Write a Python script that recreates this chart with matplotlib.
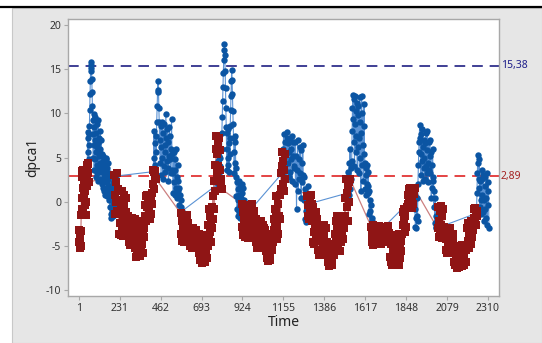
import numpy as np
import matplotlib
matplotlib.use("Agg")
import matplotlib.pyplot as plt
from matplotlib.patches import Rectangle
from matplotlib.lines import Line2D
import matplotlib.transforms as mtransforms

plt.rcParams['font.family'] = ['Noto Sans', 'DejaVu Sans']

# ---- axis / reference data ----
x_ticks = [1, 231, 462, 693, 924, 1155, 1386, 1617, 1848, 2079, 2310]
y_ticks = [-10, -5, 0, 5, 10, 15, 20]
ucl_value = 15.38
mean_value = 2.89
ucl_label = "15,38"
mean_label = "2,89"
x_label = "Time"
y_label = "dpca1"

# ---- red (square) group segments: time span + values ----
red_a_span = (1, 55)
red_a = [-3.2, -4.6, -5.2, -3.8, -4.4, -5.0, -3.3,
         -1.5, 2.8, 0.4, 3.5, -0.8, 1.6, 3.6, -1.2, 2.4, 0.8, 3.2, -0.4, 1.2, 3.4, -1.5, 2.0, 0.0,
         1.8, 4.2, 2.6, 4.4, 3.2, 4.3, 2.2]
red_c_span = (200, 435)
red_c = [3.0, 0.8, -1.4, 2.2, 0.0, 3.2, -1.0,
         1.4, -1.0, -3.6, 0.2, -2.4, -3.8, -0.8, 1.2, -2.8, -1.6, -3.9, -0.4, 0.8, -2.0, -3.2, -1.2,
         0.4, -3.6, -2.6, -1.8,
         -1.6, -4.6, -3.0, -4.9, -2.2, -4.0, -3.4, -1.8, -4.4, -2.8, -4.8, -3.6,
         -2.0, -5.2, -6.2, -3.6, -4.6, -6.0, -2.6, -5.6, -4.2, -3.0, -6.1, -5.0, -2.2, -4.8, -5.8, -3.8,
         -5.8, -4.0, -3.0, -1.6, -0.4,
         0.6, -2.2, -0.6, 0.8, -1.8, 0.2, -1.0, -2.0, 0.4, -1.4, 0.7, -0.2,
         1.0, 3.6, 2.0, 3.4, 1.4, 2.8, 3.5, 2.6]
red_e_span = (575, 808)
red_e = [-1.3, -3.6, -2.2, -4.4, -1.8, -3.0, -4.5, -2.6, -3.8, -1.6, -4.2, -2.8, -3.4, -1.5,
         -4.0, -2.4, -3.2, -4.4,
         -3.2, -5.0, -4.0, -3.4, -5.2, -4.4, -3.0, -4.8, -3.8, -5.1, -3.6, -4.6, -3.2, -5.0,
         -4.2, -3.6, -4.9, -3.9,
         -3.6, -5.8, -4.6, -6.6, -3.8, -5.2, -6.9, -4.2, -6.2, -5.0, -6.6, -4.4, -5.6, -6.8,
         -3.8, -5.4, -6.4, -4.8,
         -5.0, -2.6, -4.2, -0.8, -3.4, -1.6, -4.6, -2.2, -0.6, -3.0,
         0.6, -2.0, 2.4, -0.8, 4.2, 1.2, 6.0, 7.4, 5.4, 3.2, 6.8, 4.0, 7.2, 2.6, 5.8, 3.6,
         2.6, 1.8, 1.4]
red_g_span = (920, 1166)
red_g = [-0.2, -2.8, -1.2, -3.8, -0.6, -2.0, -4.0, -1.6, -3.2, -0.4, -2.6, -4.1, -1.4, -3.4,
         -2.2, -3.9, -0.8, -3.0, -1.8, -3.6, -0.2, -2.4, -4.0, -1.0, -3.0, -2.0,
         -2.0, -4.6, -3.2, -5.2, -2.4, -4.0, -5.0, -2.8, -4.4, -3.6, -5.2, -2.2, -3.8, -4.8,
         -2.6, -4.2, -3.0, -5.0,
         -3.2, -5.6, -4.4, -6.4, -3.8, -6.7, -5.0, -6.2, -4.0, -5.8, -6.6, -4.6, -5.4,
         -5.0, -3.6, -4.6, -2.0, -3.2, -0.8, -2.4, 0.6, -1.2, -4.2, -2.8, -0.2, -3.6, -1.6,
         0.8, -2.0,
         1.4, 3.2, 5.6, 4.0, 2.0, 4.6, 1.2, 3.6, 5.4, 2.6]
red_i_span = (1290, 1530)
red_i = [0.6, -1.6, -0.4, -1.9, 0.2, -1.0, 0.8, -1.4, -0.2,
         -2.2, -4.6, -0.6, -3.4, -4.8, -2.6, -1.2, -3.8, -4.4, -2.0,
         -2.8, -5.4, -3.8, -6.0, -4.4, -2.8, -5.6, -4.0, -3.2, -5.8, -4.8, -2.6, -3.6, -5.2,
         -6.0, -3.0, -4.6, -5.4,
         -4.6, -6.8, -5.6, -7.3, -4.8, -6.2, -7.0, -5.2, -6.6, -7.2, -5.0, -6.0,
         -6.0, -3.6, -5.2, -2.2, -4.4, -1.6, -3.0, -5.0, -2.4, -1.6, -3.8, -5.6, -2.8, -4.6,
         -1.8, -3.4, -2.0, -4.2, -3.0,
         -2.8, 0.4, -1.6, 2.6, 1.0, -0.6, 1.8, -2.2, 0.0, 2.2, 2.6]
red_k_span = (1650, 1895)
red_k = [-2.8, -4.6, -3.6, -4.9, -2.6, -4.0, -3.2, -4.8, -3.0, -4.4, -2.8, -3.8, -4.6, -3.4,
         -2.7, -4.2, -3.6, -4.8,
         -3.0, -4.4, -3.6, -2.8, -4.2, -3.4, -4.5, -2.9, -3.8, -4.4, -3.2, -2.7, -4.0, -3.5,
         -3.6, -6.2, -4.8, -6.8, -4.0, -7.1, -5.4, -6.6, -3.8, -7.0, -5.0, -4.2, -6.0, -6.9,
         -4.6, -5.8, -7.1, -3.6, -5.2, -6.4, -4.4, -5.6,
         -3.6, -1.2, -2.6, -0.8, -2.0, -3.4, -1.6, -2.8, -0.7,
         -0.6, 0.8, -0.2, 1.4, 0.2, 1.5, -0.4, 1.0, -0.7, 0.4, 1.3, -0.2, 0.9, 1.5]
red_m_span = (2025, 2250)
red_m = [-3.0, -0.6, -2.2, -4.0, -1.0, -3.2, -0.5, -2.6, -4.1, -1.6, -3.6, -0.8, -2.8, -4.0,
         -3.2, -5.4, -4.2, -5.8, -3.4, -4.8, -5.6, -3.8, -5.0, -4.4, -3.0, -5.2, -4.0, -5.8,
         -3.6, -4.6,
         -5.0, -6.8, -5.8, -7.2, -5.2, -6.4, -7.5, -5.6, -6.8, -7.4, -5.2, -6.2, -7.0, -5.4,
         -6.0, -7.3, -4.9, -6.6, -5.6, -7.1, -6.0, -5.0, -6.8, -5.4,
         -5.0, -3.0, -4.4, -2.4, -3.8, -5.2, -2.6, -3.4, -4.8, -2.2, -4.0, -3.2,
         -2.4, -0.8, -1.8, -0.7, -2.2, -1.2, -2.6, -1.0, -1.6]

# ---- blue (circle) group segments: time span + values ----
blue_b_span = (48, 210)
blue_b = [4.4, 7.2, 5.6, 7.9, 4.8, 6.4, 7.6,
          8.6, 10.4, 12.2, 13.6, 14.8, 15.5, 15.8, 15.1, 13.9, 12.4, 10.8, 9.2,
          7.6, 5.0, 9.9, 6.4, 3.6, 8.4, 4.8, 9.6, 7.0, 2.8, 7.8, 5.6, 3.2, 8.8, 6.2, 4.2, 2.4,
          6.6, 9.2, 5.2, 3.8, 7.2, 4.4, 2.6, 8.0, 6.0, 3.4, 5.4, 7.0, 4.0,
          5.4, 2.0, 4.6, 1.6, 3.8, 5.2, 2.8, 1.2, 4.2, 3.0, 0.8, 2.4, 4.8, 1.4, 3.4, 5.0, 2.2,
          0.6, 3.8, 1.8, 4.4, 2.6, 1.0, 3.2,
          2.8, 0.2, 1.8, -0.6, 1.2, -1.4, 0.4, -1.8, -0.8, 0.6, -1.2, 1.6, 0.0, 2.2, -1.6, -0.2,
          1.0, -1.0, 2.4, 0.8, -0.4, 1.4, 0.2, 2.9]
blue_d_span = (420, 580)
blue_d = [3.4, 5.0, 8.0, 4.2, 6.6, 2.8, 7.4, 5.6,
          9.0, 10.8, 12.4, 13.6, 12.6, 10.6, 9.0,
          7.0, 4.4, 8.6, 3.0, 6.2, 9.0, 5.0, 2.6, 7.8, 4.0, 8.8, 6.4, 3.4, 5.6, 9.9, 7.2, 4.6,
          8.2, 3.8, 6.8, 2.4, 5.2, 8.4, 4.8, 7.4, 3.2, 6.0, 9.4, 5.4, 3.6,
          3.2, 1.0, 5.6, 2.2, 4.8, 0.8, 3.6, 6.0, 1.6, 2.8, 0.4, 4.2, 1.2, 2.4,
          1.6, -0.4, 0.8, -1.0, 0.2, -0.6, -1.1]
blue_f_span = (785, 935)
blue_f = [2.0, 4.6, 1.6, 5.2, 3.0, 4.0, 2.4, 5.0, 1.8, 3.6,
          6.0, 7.8, 9.6, 11.4, 13.0, 14.6, 16.0, 17.2, 17.8, 16.6, 14.8, 12.8, 10.6, 8.4,
          6.0, 3.6, 7.8, 5.0, 8.2, 4.2, 6.6, 3.4, 7.2, 5.4,
          8.6, 10.4, 12.0, 13.6, 14.9, 13.8, 12.2, 10.2, 8.8, 7.2,
          5.6, 3.2, 6.8, 4.4, 7.4, 3.8,
          2.8, 0.6, 2.2, -0.8, 1.4, -1.6, 0.2, 2.4, -1.2, 0.8, -1.8, -0.4, 1.8, -1.0, 0.4, 2.0,
          -1.4, 1.0, -0.6, 1.6, -1.8, 0.2, -1.2, -1.7]
blue_h_span = (1147, 1305)
blue_h = [3.2, 6.0, 4.2, 7.6, 5.0, 3.6, 6.8, 2.8, 5.4, 7.2,
          7.9, 4.4, 6.6, 2.8, 5.6, 7.2, 3.4, 6.0, 4.8, 7.4, 2.4, 5.2, 6.8, 3.8,
          4.0, 6.8, 2.0, 5.2, -0.8, 3.6, 7.0, 1.2, 4.8, 2.6, 6.2, 3.2, 5.8, 0.4, 4.4, 2.2, 6.4, 3.0,
          2.8, 0.2, -2.0, 1.4, -1.0, -2.3, 0.6, -1.6, 1.8, -0.4, -2.2, 0.8, -0.2]
blue_j_span = (1520, 1660)
blue_j = [1.0, 3.4, 0.8, 4.4, 2.2, 6.0, 1.4, 3.8, 2.6, 4.6,
          8.0, 10.6, 12.1, 9.4, 6.8, 11.6, 4.0, 8.8, 12.0, 5.6, 10.2, 7.4, 11.2, 3.6, 9.8, 6.2,
          10.8, 7.2, 3.2, 11.8, 9.0, 5.0, 1.2, 7.8, 12.0, 4.2, 10.0, 6.4, 2.4, 8.6, 11.0, 5.4,
          4.4, 1.4, 3.0, 0.8, 3.8, 2.0, 4.2, 1.0, 3.4, 1.8,
          1.2, -1.4, 0.2, -2.8, -1.0, -3.6, -0.4, -2.2, -3.2, -1.8, -4.1]
blue_l_span = (1895, 2019)
blue_l = [0.6, -0.8, -2.8, -1.8, -3.0, -1.6, 0.4, -2.2, 2.0, 4.2, 5.6, 6.8, 8.7, 7.2,
          5.4, 3.0, 7.6, 4.6, 8.2, 2.4, 6.2, 3.8, 7.0, 5.0, 2.6, 6.6, 4.0, 7.8, 3.2, 5.8, 8.0,
          4.4, 2.2, 6.8, 3.6, 5.2,
          7.0, 3.2, 5.6, 0.4, 4.2, 1.6, 6.0, 2.4,
          2.8, -0.6, 1.2, -2.4, 0.4, -1.6, -2.8, -3.0]
blue_n_span = (2245, 2315)
blue_n = [-1.3, 1.0, 3.2, 5.3, 4.4, 2.6, 4.8, 1.6, -0.6, 2.4, 0.2, -1.4,
          3.6, 0.8, 2.6, -1.2, 3.0, 0.2, -2.2, 1.8, -0.8, 2.8, -1.8, 0.4, 3.2, -2.6, 1.2,
          -0.4, 2.2, -3.0]

red_segments = [(red_a_span, red_a), (red_c_span, red_c), (red_e_span, red_e),
                (red_g_span, red_g), (red_i_span, red_i), (red_k_span, red_k),
                (red_m_span, red_m)]
blue_segments = [(blue_b_span, blue_b), (blue_d_span, blue_d), (blue_f_span, blue_f),
                 (blue_h_span, blue_h), (blue_j_span, blue_j), (blue_l_span, blue_l),
                 (blue_n_span, blue_n)]


def build(segments):
    ts, vs = [], []
    for (t0, t1), vals in segments:
        ts.extend(np.linspace(t0, t1, len(vals)))
        vs.extend(vals)
    return np.array(ts), np.array(vs)


t_red, v_red = build(red_segments)
t_blue, v_blue = build(blue_segments)

# ---- styling ----
BLUE = '#0b55a3'
BLUE_LINE = '#5a92d4'
RED = '#8f1515'
RED_LINE = '#cc8080'
BG = '#e6e6e6'

fig = plt.figure(figsize=(5.42, 3.43), dpi=100, facecolor='white')
fig.patches.append(Rectangle((12 / 542, 0), 1 - 12 / 542, (343 - 8) / 343,
                             transform=fig.transFigure, facecolor=BG,
                             edgecolor='#c8c8c8', lw=0.8, zorder=-10))
fig.lines.append(Line2D([0, 1], [1 - 7 / 343, 1 - 7 / 343], transform=fig.transFigure,
                        color='black', lw=1.6))

ax = fig.add_axes([68 / 542, 1 - 296 / 343, (499 - 68) / 542, (296 - 19) / 343])
ax.set_facecolor('white')

ax.axhline(ucl_value, color='#0c0c78', lw=1.1, ls=(0, (7, 4.5)), zorder=1)
ax.axhline(mean_value, color='#dd1111', lw=1.1, ls=(0, (7, 4.5)), zorder=1)

ax.plot(t_red, v_red, '-', color=RED_LINE, lw=0.9, zorder=2)
ax.plot(t_blue, v_blue, '-', color=BLUE_LINE, lw=0.8, zorder=2.5)
ax.plot(t_blue, v_blue, 'o', color=BLUE, ms=4.6, mew=0, zorder=3)
ax.plot(t_red, v_red, 's', color=RED, ms=5.4, mew=0, zorder=5)

ax.set_xlim(-61, 2372)
ax.set_ylim(-10.65, 20.65)
ax.set_xticks(x_ticks)
ax.set_xticklabels([str(v) for v in x_ticks])
ax.set_yticks(y_ticks)
ax.set_yticklabels([str(v) for v in y_ticks])

for sp in ax.spines.values():
    sp.set_color('#a8a8a8')
    sp.set_linewidth(1.0)
ax.tick_params(axis='both', colors='#a8a8a8', labelcolor='#333333', labelsize=7.5,
               length=3, width=0.8, pad=2)

ax.set_xlabel(x_label, fontsize=10, color='#222222', labelpad=1)
ax.set_ylabel(y_label, fontsize=10, color='#222222', labelpad=4)

trans = mtransforms.blended_transform_factory(ax.transAxes, ax.transData)
ax.text(1.004, ucl_value, ucl_label, transform=trans, ha='left', va='center',
        fontsize=7.5, color='#1f1f8a', clip_on=False)
ax.text(1.004, mean_value, mean_label, transform=trans, ha='left', va='center',
        fontsize=7.5, color='#a52222', clip_on=False)

fig.savefig('out.png', dpi=100, facecolor='white')
